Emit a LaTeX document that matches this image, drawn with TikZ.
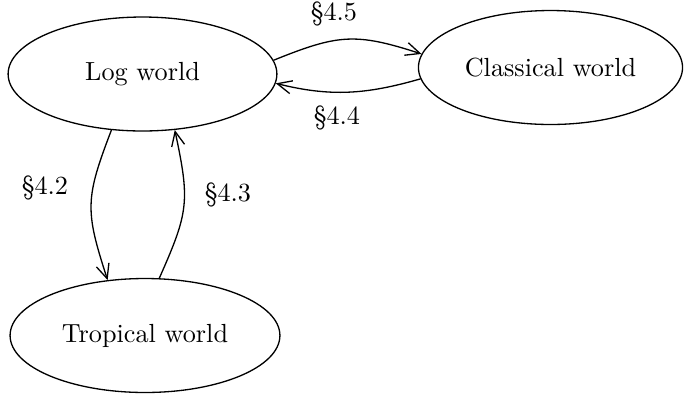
\documentclass[tikz,border=0pt]{standalone}
\usepackage{fontspec}
\usetikzlibrary{shapes.geometric,arrows.meta}
\begin{document}
\begin{tikzpicture}[x=0.3817pt,y=-0.3817pt,
  world/.style={draw,ellipse,line width=0.5pt,inner sep=0pt},
  conn/.style={line width=0.5pt,-{Straight Barb[length=5.5pt,width=5pt]}},
  lbl/.style={inner sep=0pt}]
\useasboundingbox (0,0) rectangle (684,393);
\node[world,minimum width=102.6pt,minimum height=43.5pt] (log) at (142.5,74) {Log world};
\node[world,minimum width=100.8pt,minimum height=43.5pt] (cls) at (550.5,67.5) {Classical world};
\node[world,minimum width=103pt,minimum height=43.5pt] (trop) at (145,335.5) {Tropical world};
\draw[conn] (log.6) to[out=22,in=162,looseness=1.2] (cls.174);
\draw[conn] (cls.185) to[out=196,in=346] (log.356);
\draw[conn] (log.241) to[out=249,in=108,looseness=1.25] (trop.124);
\draw[conn] (trop.76) to[out=66,in=282,looseness=1.25] (log.300);
\node[lbl] (l45) at (334,14) {§4.5};
\node[lbl] (l44) at (337,118) {§4.4};
\node[lbl] (l42) at (45,188) {§4.2};
\node[lbl] (l43) at (228,195) {§4.3};
\end{tikzpicture}
\end{document}
